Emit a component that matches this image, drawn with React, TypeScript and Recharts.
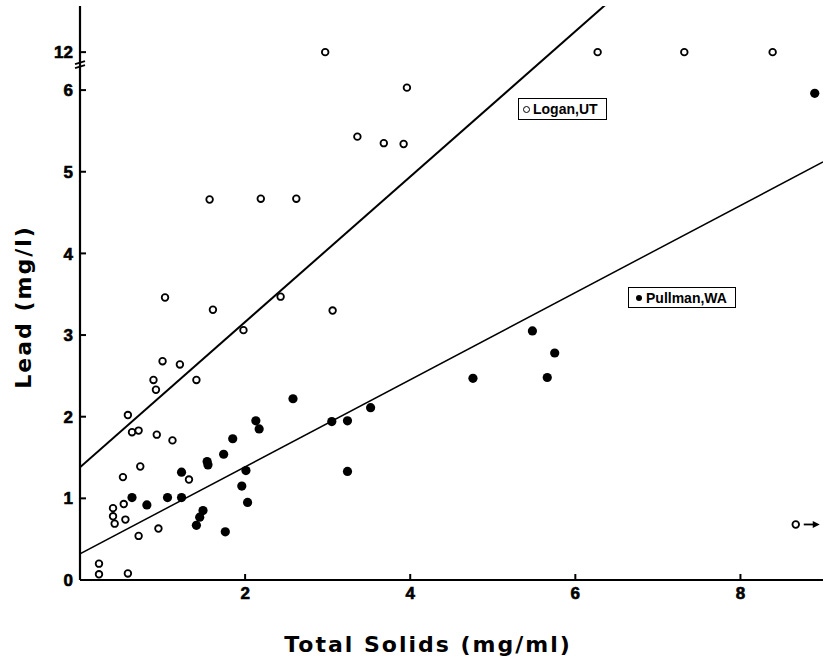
import React from 'react';
import { ScatterChart, Scatter, XAxis, YAxis, ReferenceLine } from 'recharts';

// ---- data ----
// Logan, UT (open circles) : total solids (mg/ml) and lead (mg/l); 12 = off-scale top row
const loganSolids = [0.23, 0.23, 0.58, 0.58, 0.63, 0.71, 0.93, 1.12, 0.73, 0.52, 1.32, 0.40, 0.53, 0.40, 0.42, 0.55, 0.71, 0.95, 1.03, 1.61, 2.43, 1.98, 1.00, 1.21, 0.89, 0.92, 1.41, 3.06, 1.57, 2.19, 2.62, 3.96, 3.36, 3.68, 3.92, 2.97, 6.27, 7.32, 8.39];
const loganLead = [0.20, 0.07, 0.08, 2.02, 1.81, 1.83, 1.78, 1.71, 1.39, 1.26, 1.23, 0.88, 0.93, 0.78, 0.69, 0.74, 0.54, 0.63, 3.46, 3.31, 3.47, 3.06, 2.68, 2.64, 2.45, 2.33, 2.45, 3.30, 4.66, 4.67, 4.67, 6.03, 5.43, 5.35, 5.34, 12, 12, 12, 12];
// Logan point whose solids value is beyond the x scale (drawn with an arrow)
const loganOffSolids = [8.67];
const loganOffLead = [0.68];

// Pullman, WA (filled circles)
const pullmanSolids = [0.63, 0.81, 1.06, 1.23, 1.23, 1.54, 1.55, 1.74, 1.85, 2.13, 2.17, 2.01, 1.96, 2.03, 1.49, 1.45, 1.41, 1.76, 2.58, 3.05, 3.24, 3.52, 3.24, 4.76, 5.48, 5.75, 5.66, 8.90];
const pullmanLead = [1.01, 0.92, 1.01, 1.01, 1.32, 1.45, 1.41, 1.54, 1.73, 1.95, 1.85, 1.34, 1.15, 0.95, 0.85, 0.77, 0.67, 0.59, 2.22, 1.94, 1.95, 2.11, 1.33, 2.47, 3.05, 2.78, 2.48, 5.96];

// fitted lines (end points in axis units)
const loganFitX = [0, 9];
const loganFitY = [1.38, 9.39];
const pullmanFitX = [0, 9];
const pullmanFitY = [0.32, 5.12];

const xTicks = [2, 4, 6, 8];
const yTickValues = [0, 1, 2, 3, 4, 5, 6, 12];

// broken y axis: values of 12 sit just above 6
const BREAK_VALUE = 12;
const BREAK_POS = 6.465;
const toAxis = (v: number) => (v >= BREAK_VALUE ? BREAK_POS : v);
const yTicks = yTickValues.map(toAxis);

const loganData = loganSolids.map((x, i) => ({ x, y: toAxis(loganLead[i]) }));
const loganOffData = loganOffSolids.map((x, i) => ({ x, y: toAxis(loganOffLead[i]) }));
const pullmanData = pullmanSolids.map((x, i) => ({ x, y: toAxis(pullmanLead[i]) }));

const tickFont = "'Liberation Sans', Arial, sans-serif";
const titleFont = "'DejaVu Sans', Verdana, sans-serif";

const OpenDot = (p: any) => (
  <circle cx={p.cx} cy={p.cy} r={3.3} fill="#fff" stroke="#000" strokeWidth={1.8} />
);
const FilledDot = (p: any) => <circle cx={p.cx} cy={p.cy} r={4.6} fill="#000" />;
const ArrowDot = (p: any) => (
  <g>
    <circle cx={p.cx} cy={p.cy} r={3.3} fill="#fff" stroke="#000" strokeWidth={1.8} />
    <line x1={p.cx + 8} y1={p.cy} x2={p.cx + 20} y2={p.cy} stroke="#000" strokeWidth={1.8} />
    <path d={`M${p.cx + 17},${p.cy - 3.5} L${p.cx + 24},${p.cy} L${p.cx + 17},${p.cy + 3.5} Z`} fill="#000" />
  </g>
);

const YTick = (props: any) => {
  const { x, y, payload } = props;
  const isBreak = payload.value === BREAK_POS;
  const label = isBreak ? String(BREAK_VALUE) : String(payload.value);
  return (
    <g>
      <line x1={x} y1={y} x2={x + 6} y2={y} stroke="#000" strokeWidth={2} />
      <text x={x - 7} y={y} dy="0.36em" textAnchor="end" fontFamily={tickFont} fontWeight="bold" fontSize={17} fill="#000" stroke="#000" strokeWidth={0.6}>
        {label}
      </text>
      {isBreak && (
        <g stroke="#000" strokeWidth={1.6}>
          <line x1={x - 5} y1={y + 12} x2={x + 5} y2={y + 9} />
          <line x1={x - 5} y1={y + 16} x2={x + 5} y2={y + 13} />
        </g>
      )}
    </g>
  );
};

const XTick = (props: any) => {
  const { x, y, payload } = props;
  return (
    <g>
      <line x1={x} y1={y} x2={x} y2={y - 6} stroke="#000" strokeWidth={2} />
      <text x={x} y={y + 19} textAnchor="middle" fontFamily={tickFont} fontWeight="bold" fontSize={17} fill="#000" stroke="#000" strokeWidth={0.6}>
        {payload.value}
      </text>
    </g>
  );
};

const xTitle = () => (
  <text x={428} y={652} textAnchor="middle" fontFamily={titleFont} fontWeight="bold" fontSize={22} letterSpacing={2} fill="#000">
    Total Solids  (mg/ml)
  </text>
);
const yTitle = () => (
  <text x={31} y={307} transform="rotate(-90 31 307)" textAnchor="middle" fontFamily={titleFont} fontWeight="bold" fontSize={22} letterSpacing={2} fill="#000">
    Lead  (mg/l)
  </text>
);

const legendBox: React.CSSProperties = {
  position: 'absolute',
  border: '1.5px solid #000',
  boxSizing: 'border-box',
  display: 'flex',
  alignItems: 'center',
  paddingLeft: 4,
  fontFamily: "'Liberation Sans', Arial, sans-serif",
  fontWeight: 'bold',
  fontSize: 14,
  color: '#000',
  background: '#fff',
  whiteSpace: 'nowrap',
};

export default function App() {
  return (
    <div style={{ position: 'absolute', left: 0, top: 0, width: 825, height: 660, background: '#fff' }}>
      <ScatterChart width={825} height={660} margin={{ top: 6, right: 2, bottom: 0, left: 0 }}>
        <XAxis
          dataKey="x"
          type="number"
          domain={[0, 9]}
          ticks={xTicks}
          interval={0}
          height={80}
          tickSize={0}
          tickMargin={0}
          tickLine={false}
          tick={<XTick />}
          axisLine={{ stroke: '#000', strokeWidth: 2.2 }}
          allowDataOverflow
          label={xTitle}
        />
        <XAxis xAxisId="top" orientation="top" type="number" domain={[0, 9]} height={0} tick={false} tickLine={false} axisLine={{ stroke: '#000', strokeWidth: 2.2 }} />
        <YAxis
          dataKey="y"
          type="number"
          domain={[0, 7.03]}
          ticks={yTicks}
          interval={0}
          width={80}
          tickSize={0}
          tickMargin={0}
          tickLine={false}
          tick={<YTick />}
          axisLine={{ stroke: '#000', strokeWidth: 2.2 }}
          allowDataOverflow
          label={yTitle}
        />
        <YAxis yAxisId="right" orientation="right" type="number" domain={[0, 7.03]} width={0} tick={false} tickLine={false} axisLine={{ stroke: '#000', strokeWidth: 1.5 }} />
        <ReferenceLine
          segment={[{ x: loganFitX[0], y: loganFitY[0] }, { x: loganFitX[1], y: loganFitY[1] }]}
          stroke="#000"
          strokeWidth={2}
          ifOverflow="hidden"
        />
        <ReferenceLine
          segment={[{ x: pullmanFitX[0], y: pullmanFitY[0] }, { x: pullmanFitX[1], y: pullmanFitY[1] }]}
          stroke="#000"
          strokeWidth={1.5}
          ifOverflow="hidden"
        />
        <Scatter name="Logan,UT" data={loganData} shape={OpenDot} isAnimationActive={false} />
        <Scatter name="Logan,UT (off scale)" data={loganOffData} shape={ArrowDot} isAnimationActive={false} />
        <Scatter name="Pullman,WA" data={pullmanData} shape={FilledDot} isAnimationActive={false} />
      </ScatterChart>
      <div style={{ ...legendBox, left: 518, top: 98, width: 89, height: 22 }}>
        <span style={{ display: 'inline-block', width: 5, height: 5, border: '1.4px solid #000', borderRadius: '50%', marginRight: 3 }} />
        Logan,UT
      </div>
      <div style={{ ...legendBox, left: 628, top: 287, width: 108, height: 21 }}>
        <span style={{ display: 'inline-block', width: 6, height: 6, background: '#000', borderRadius: '50%', marginRight: 4, marginLeft: 3 }} />
        Pullman,WA
      </div>
    </div>
  );
}
